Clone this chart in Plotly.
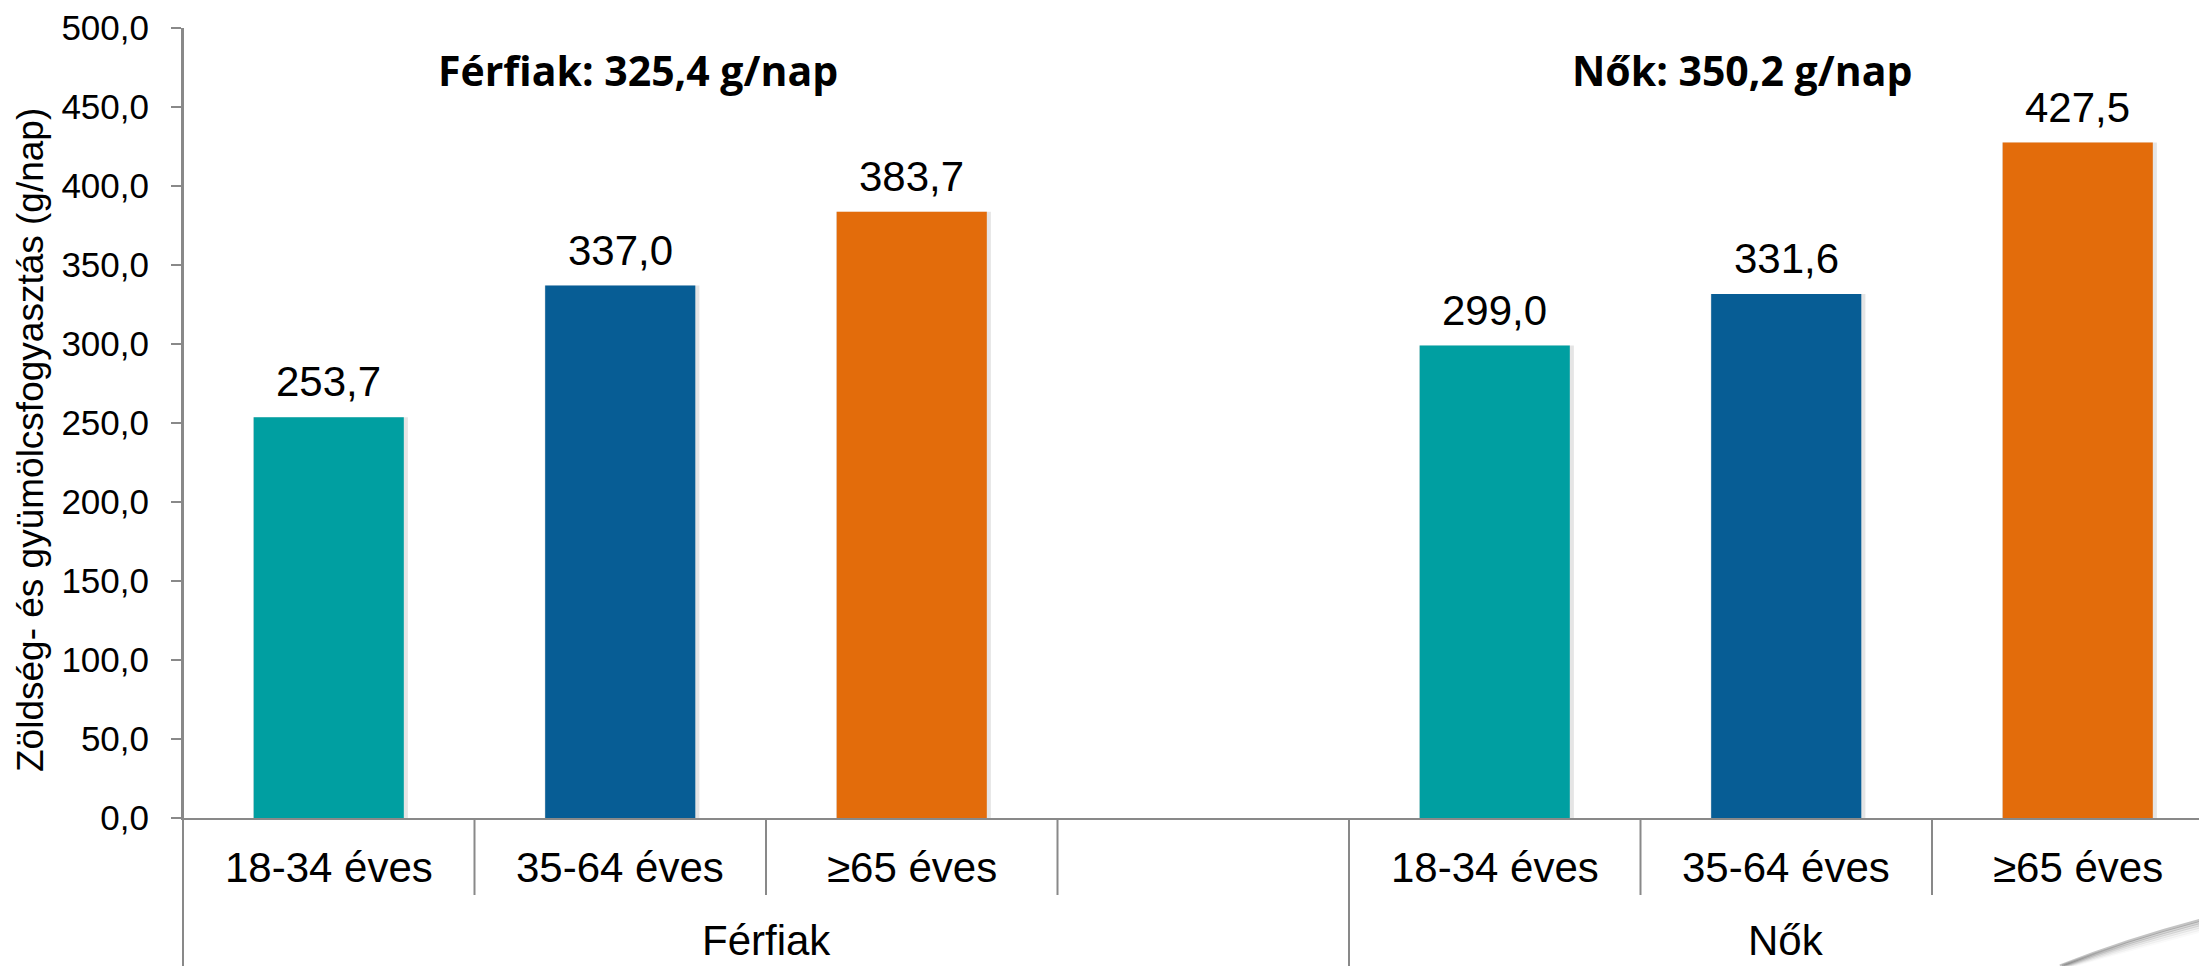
import plotly.graph_objects as go

# Daily fruit & vegetable intake (g/day) by sex and age group
groups = ["Férfiak", "Nők"]
age_groups = ["18-34 éves", "35-64 éves", "≥65 éves"]
ferfiak = [253.7, 337.0, 383.7]
nok = [299.0, 331.6, 427.5]
group_totals = [325.4, 350.2]
bar_colors = ["#009FA1", "#075D95", "#E36C0B"]

y_ticks = [0, 50, 100, 150, 200, 250, 300, 350, 400, 450, 500]

# figure geometry (pixels)
W, H = 2199, 966
ML, MR, MT, MB = 183, 0, 28, 148
PW, PH = W - ML - MR, H - MT - MB
SLOT = 291.5                      # width of one category slot in px
BAR_W = 0.515                     # bar width in slot units

# slot index of each category: Férfiak uses slots 0-2 (slot 3 left empty), Nők 4-6
slot_of = {"Férfiak": [0, 1, 2], "Nők": [4, 5, 6]}
values = {"Férfiak": ferfiak, "Nők": nok}


def px(x):
    return (x - ML) / PW


def py(y):
    return (H - MB - y) / PH


fig = go.Figure()

# soft drop shadow behind the bars
for i, age in enumerate(age_groups):
    xs = [slot_of[g][i] for g in groups]
    ys = [values[g][i] for g in groups]
    fig.add_trace(go.Bar(
        x=xs, y=ys, width=BAR_W + 0.016, offset=-BAR_W / 2 - 0.002,
        marker=dict(color="rgba(0,0,0,0.10)", line=dict(width=0)),
        hoverinfo="skip", showlegend=False,
    ))

for i, age in enumerate(age_groups):
    xs = [slot_of[g][i] for g in groups]
    ys = [values[g][i] for g in groups]
    fig.add_trace(go.Bar(
        x=xs, y=ys, width=BAR_W, name=age,
        marker=dict(color=bar_colors[i], line=dict(width=0)),
        showlegend=False,
    ))

annotations = []
FONT = "Liberation Sans, Arial"

# value labels above each bar
for g in groups:
    for i, v in enumerate(values[g]):
        annotations.append(dict(
            x=slot_of[g][i], y=v, xref="x", yref="y",
            text=f"{v:.1f}".replace(".", ","),
            showarrow=False, yanchor="bottom", yshift=10,
            font=dict(family=FONT, size=42, color="#000000"),
        ))

# age-group labels (first category row)
for g in groups:
    for i, age in enumerate(age_groups):
        annotations.append(dict(
            x=slot_of[g][i], y=py(868), xref="x", yref="paper",
            text=age, showarrow=False, yanchor="middle",
            font=dict(family=FONT, size=42, color="#000000"),
        ))

# sex labels (second category row)
group_centers = [1.5, 5.0]
for g, c in zip(groups, group_centers):
    annotations.append(dict(
        x=c, y=py(940), xref="x", yref="paper",
        text=g, showarrow=False, yanchor="middle",
        font=dict(family=FONT, size=42, color="#000000"),
    ))

# group averages
title_x = [638, 1742]
for g, t, tx in zip(groups, group_totals, title_x):
    annotations.append(dict(
        x=px(tx), y=py(70), xref="paper", yref="paper",
        text=f"<b>{g}: {t:.1f} g/nap</b>".replace(".", ","),
        showarrow=False, yanchor="middle", xanchor="center",
        font=dict(family="Open Sans, Lato", size=41, color="#000000"),
    ))

# y-axis title
annotations.append(dict(
    x=px(30), y=py(440), xref="paper", yref="paper",
    text="Zöldség- és gyümölcsfogyasztás (g/nap)", textangle=-90,
    showarrow=False, xanchor="center", yanchor="middle",
    font=dict(family=FONT, size=37, color="#000000"),
))

AX = "#898989"
shapes = []
# y axis line continues down through the category area
shapes.append(dict(type="line", xref="paper", yref="paper",
                   x0=0, x1=0, y0=py(H), y1=1,
                   line=dict(color=AX, width=2)))
# short dividers between age groups
for xb in [0.5, 1.5, 2.5, 4.5, 5.5, 6.5]:
    shapes.append(dict(type="line", xref="x", yref="paper",
                       x0=xb, x1=xb, y0=py(895), y1=0,
                       line=dict(color=AX, width=2)))
# long divider between the two sexes
shapes.append(dict(type="line", xref="x", yref="paper",
                   x0=3.5, x1=3.5, y0=py(H), y1=0,
                   line=dict(color=AX, width=2)))

# curled page corner shadow in the lower right
for k, op in enumerate([0.30, 0.22, 0.15, 0.09, 0.05, 0.025]):
    d = k * 2.2
    path = (f"M {px(2060 + d)},{py(H)} "
            f"Q {px(2125)},{py(940 + d)} {px(W + 2)},{py(920 + d)}")
    shapes.append(dict(type="path", xref="paper", yref="paper", path=path,
                       line=dict(color=f"rgba(60,60,60,{op})", width=3)))

fig.update_layout(
    width=W, height=H, autosize=False,
    margin=dict(l=ML, r=MR, t=MT, b=MB, pad=0),
    paper_bgcolor="#FFFFFF", plot_bgcolor="#FFFFFF",
    barmode="overlay", separators=", ",
    showlegend=False,
    annotations=annotations, shapes=shapes,
    xaxis=dict(
        range=[-0.5, -0.5 + PW / SLOT], showgrid=False, zeroline=False,
        showticklabels=False, ticks="", showline=True,
        linecolor=AX, linewidth=2, fixedrange=True,
    ),
    yaxis=dict(
        range=[0, 500], tickvals=y_ticks, tickformat=".1f",
        showgrid=False, zeroline=False, showline=True,
        linecolor=AX, linewidth=2, ticks="outside", ticklen=10,
        tickcolor=AX, tickwidth=2, ticklabelstandoff=15,
        tickfont=dict(family=FONT, size=35, color="#000000"),
        fixedrange=True,
    ),
)

fig.write_html("out.html")
